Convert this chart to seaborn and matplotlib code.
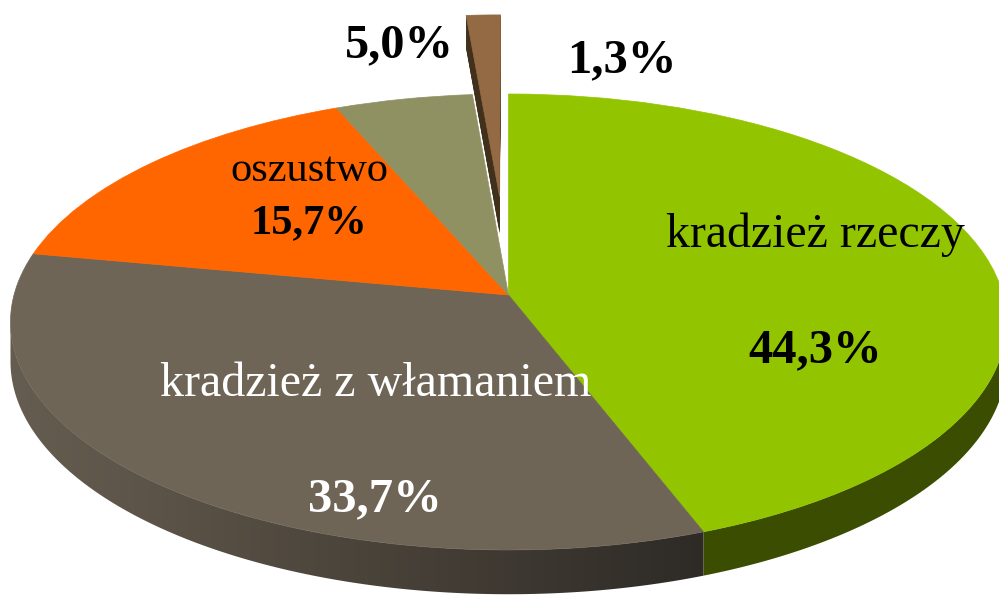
import numpy as np
import matplotlib
matplotlib.use("Agg")
import matplotlib.pyplot as plt
from matplotlib.patches import Wedge, Polygon
from matplotlib.transforms import Transform
import seaborn as sns

categories = ["kradzież rzeczy", "kradzież z włamaniem", "oszustwo", "inne", "pozostałe"]
shares = [44.3, 33.7, 15.7, 5.0, 1.3]
explode = [0, 0, 0, 0, 0.462]
top_colors = ["#92c400", "#6e6556", "#ff6600", "#8f9163", "#936a43"]
side_colors = ["#3b4d00", "#4f483e", "#803300", "#484932", "#40301c"]
gray_stops_x = [10, 150, 300, 706]
gray_stops = ["#655d50", "#5c5448", "#4f483e", "#2e2a26"]

W, H = 999, 596
CX, CY = 508.5, 295
KP, AY, BX, DEPTH = 0.1184, 224.8, 494.5, 39.0


class Tilt(Transform):
    """Perspective tilt of the unit pie disk, at depth z below the top face."""
    input_dims = output_dims = 2
    is_separable = False
    has_inverse = False

    def __init__(self, z=0.0):
        super().__init__()
        self.z = z

    def transform_non_affine(self, values):
        v = np.asarray(values, dtype=float)
        d = 1 + KP * v[:, 1]
        return np.column_stack([BX * v[:, 0] / d, (AY * v[:, 1] - DEPTH * self.z) / d])


def fmt(v):
    return f"{v:.1f}%".replace(".", ",")


sns.set_theme(style="white")
plt.rcParams["font.family"] = ["Liberation Serif", "DejaVu Serif"]

fig = plt.figure(figsize=(W / 100, H / 100), dpi=100, facecolor="white")
ax = fig.add_axes([0, 0, 1, 1])
wedges, _ = ax.pie(shares, explode=explode, colors=sns.color_palette(top_colors),
                   startangle=90, counterclock=False, radius=1)
ax.set_aspect("auto")

top = Tilt(0.0)
bottom = Tilt(1.0)
for i, w in enumerate(wedges):
    w.set_transform(top + ax.transData)
    w.set_zorder(3)
    w.set_edgecolor(top_colors[i])
    w.set_linewidth(0.5)
    if explode[i] > 0:
        # exploded slice: stack of copies gives its dark extruded side
        for z in np.linspace(0.02, 1, 40):
            p = Wedge(w.center, w.r, w.theta1, w.theta2, color=side_colors[i], lw=0, zorder=2.5)
            ax.add_patch(p)
            p.set_transform(Tilt(z) + ax.transData)
        continue
    # visible front part of the rim of the slice
    th = np.radians(np.linspace(w.theta1, w.theta2, 300))
    th = th[np.sin(th) <= -KP]
    if th.size < 2:
        continue
    rim = np.column_stack([np.cos(th), np.sin(th)])
    outline = np.vstack([top.transform_non_affine(rim), bottom.transform_non_affine(rim)[::-1]])
    if i == 1:
        xs = np.arange(0, W) + 0.5
        rgb = np.array([matplotlib.colors.to_rgb(c) for c in gray_stops])
        grad = np.stack([np.interp(xs, gray_stops_x, rgb[:, c]) for c in range(3)], axis=1)[None, :, :]
        im = ax.imshow(grad, extent=(-CX, W - CX, CY - H, CY), aspect="auto", zorder=1.5,
                       interpolation="bilinear")
        im.set_clip_path(Polygon(outline, closed=True, transform=ax.transData))
    else:
        ax.add_patch(Polygon(outline, closed=True, color=side_colors[i], lw=0, zorder=1))

ax.set_xlim(-CX, W - CX)
ax.set_ylim(CY - H, CY)
ax.axis("off")


def label(text, px, py, size, color="black", bold=False):
    fig.text(px / W, 1 - py / H, text, ha="center", va="baseline", fontsize=size,
             color=color, fontweight="bold" if bold else "normal", zorder=10)


label(categories[0], 815, 247, 34.5)
label(fmt(shares[0]), 815, 362, 35, bold=True)
label(categories[1], 376, 396, 34.6, color="white")
label(fmt(shares[1]), 375, 511, 35, color="white", bold=True)
label(categories[2], 309, 181, 30.6)
label(fmt(shares[2]), 309.5, 233, 30.6, bold=True)
label(fmt(shares[3]), 399.5, 57, 34.8, bold=True)
label(fmt(shares[4]), 622, 72, 35, bold=True)

fig.savefig("out.png", dpi=100, facecolor="white")
